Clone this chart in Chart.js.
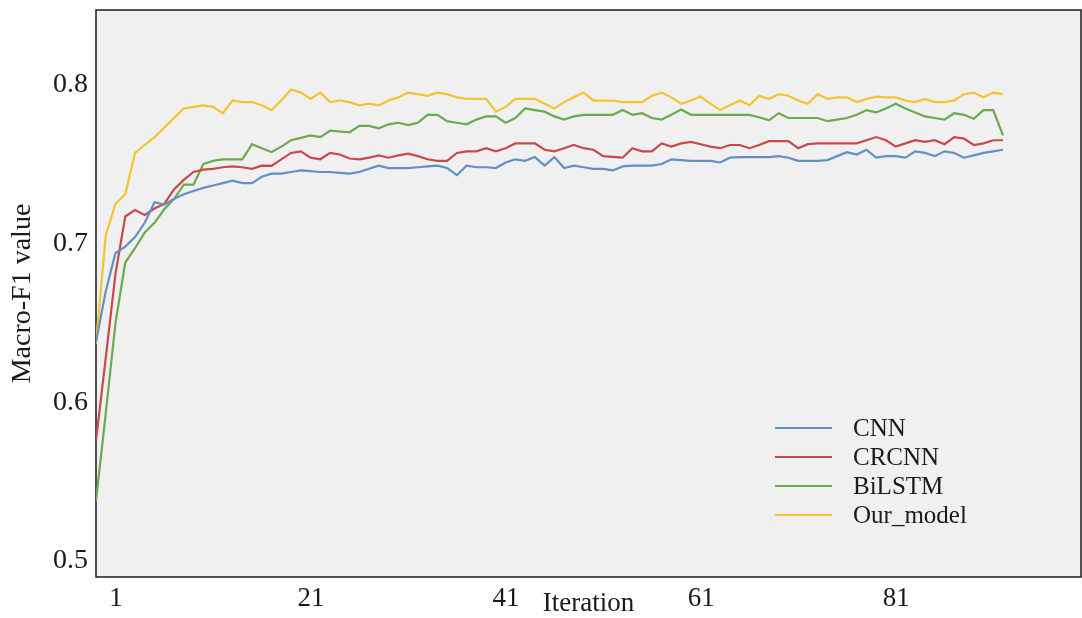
<!DOCTYPE html>
<html>
<head>
<meta charset="utf-8">
<script src="https://cdn.jsdelivr.net/npm/chart.js@4.4.0/dist/chart.umd.min.js"></script>
<style>
  html, body { margin: 0; padding: 0; background: #ffffff; }
  #wrap { width: 1082px; height: 618px; }
</style>
</head>
<body>
<div id="wrap"><canvas id="f1Chart" width="1082" height="618"></canvas></div>
<script>
// iteration numbers along the x axis
const iterations = [];
for (let i = 1; i <= 94; i++) iterations.push(i);

const seriesNames = ["CNN", "CRCNN", "BiLSTM", "Our_model"];
const seriesColors = ["#6390c4", "#c9494a", "#6aab4f", "#f2c431"];

const cnn = [0.638,0.670,0.694,0.698,0.704,0.713,0.726,0.7245,0.728,0.731,
  0.733,0.735,0.7365,0.738,0.7395,0.738,0.738,0.742,0.744,0.744,
  0.745,0.746,0.7455,0.745,0.745,0.7445,0.744,0.745,0.747,0.749,
  0.7475,0.7475,0.7475,0.748,0.7485,0.749,0.7475,0.743,0.749,0.748,
  0.748,0.7475,0.751,0.753,0.752,0.7544,0.749,0.7544,0.7475,0.749,
  0.748,0.747,0.747,0.746,0.7485,0.749,0.749,0.749,0.750,0.753,
  0.7525,0.752,0.752,0.752,0.751,0.754,0.7544,0.7544,0.7544,0.7544,
  0.755,0.754,0.752,0.752,0.752,0.7525,0.755,0.7575,0.756,0.759,
  0.754,0.755,0.755,0.754,0.758,0.757,0.755,0.758,0.757,0.754,
  0.7555,0.757,0.758,0.759];

const crcnn = [0.576,0.628,0.681,0.717,0.721,0.718,0.722,0.725,0.734,0.740,
  0.745,0.7465,0.747,0.748,0.7485,0.748,0.747,0.749,0.7488,0.753,
  0.757,0.758,0.754,0.753,0.757,0.756,0.7535,0.753,0.754,0.7555,
  0.754,0.7555,0.7565,0.755,0.753,0.752,0.752,0.757,0.758,0.758,
  0.760,0.758,0.760,0.763,0.763,0.763,0.759,0.758,0.760,0.762,
  0.760,0.759,0.755,0.7545,0.754,0.760,0.758,0.758,0.763,0.761,
  0.763,0.764,0.7625,0.761,0.760,0.762,0.762,0.760,0.762,0.7644,
  0.7644,0.7644,0.760,0.7625,0.763,0.763,0.763,0.763,0.763,0.765,
  0.767,0.765,0.761,0.763,0.765,0.764,0.765,0.7625,0.767,0.766,
  0.762,0.763,0.765,0.765];

const bilstm = [0.538,0.593,0.650,0.688,0.697,0.707,0.713,0.7215,0.728,0.737,
  0.737,0.750,0.752,0.753,0.753,0.753,0.7625,0.760,0.7575,0.761,
  0.765,0.7665,0.768,0.767,0.771,0.7705,0.770,0.774,0.774,0.7725,
  0.775,0.776,0.7745,0.776,0.781,0.781,0.777,0.776,0.775,0.778,
  0.780,0.780,0.776,0.779,0.785,0.784,0.783,0.780,0.778,0.780,
  0.781,0.781,0.781,0.781,0.784,0.781,0.782,0.779,0.778,0.781,
  0.7844,0.781,0.781,0.781,0.781,0.781,0.781,0.781,0.7795,0.7775,
  0.782,0.779,0.779,0.779,0.779,0.777,0.778,0.779,0.781,0.784,
  0.7825,0.785,0.788,0.785,0.7825,0.780,0.779,0.778,0.782,0.781,
  0.7785,0.784,0.784,0.768];

const ourModel = [0.637,0.705,0.725,0.731,0.757,0.762,0.767,0.773,0.779,0.785,
  0.786,0.787,0.786,0.782,0.790,0.789,0.789,0.787,0.784,0.790,
  0.797,0.795,0.791,0.795,0.789,0.790,0.789,0.787,0.788,0.787,
  0.790,0.792,0.795,0.794,0.793,0.795,0.794,0.792,0.791,0.791,
  0.791,0.783,0.786,0.791,0.791,0.791,0.788,0.785,0.789,0.792,
  0.795,0.790,0.790,0.790,0.789,0.789,0.789,0.793,0.795,0.792,
  0.788,0.790,0.7925,0.788,0.784,0.787,0.790,0.787,0.793,0.791,
  0.794,0.793,0.790,0.788,0.794,0.791,0.792,0.792,0.789,0.791,
  0.7925,0.792,0.792,0.790,0.789,0.791,0.789,0.789,0.790,0.794,
  0.795,0.792,0.795,0.794];

const xTickValues = [1, 21, 41, 61, 81];
const yTickValues = [0.5, 0.6, 0.7, 0.8];

const seriesData = [cnn, crcnn, bilstm, ourModel];
const serif = "'Liberation Serif', 'Times New Roman', serif";

// gray plot background and black frame
const framePlugin = {
  id: "frame",
  beforeDatasetsDraw(chart) {
    const { ctx, chartArea: a } = chart;
    ctx.save();
    ctx.fillStyle = "#f0f0f0";
    ctx.fillRect(a.left, a.top, a.right - a.left, a.bottom - a.top);
    ctx.strokeStyle = "#1a1a1a";
    ctx.lineWidth = 1.5;
    ctx.strokeRect(a.left, a.top, a.right - a.left, a.bottom - a.top);
    ctx.restore();
  },
};

// legend drawn inside the plot, lower right
const legendPlugin = {
  id: "innerLegend",
  afterDatasetsDraw(chart) {
    const ctx = chart.ctx;
    ctx.save();
    ctx.font = "25px " + serif;
    ctx.textBaseline = "middle";
    ctx.textAlign = "left";
    chart.data.datasets.forEach((ds, i) => {
      const y = 428 + i * 29;
      ctx.strokeStyle = ds.borderColor;
      ctx.lineWidth = 2.2;
      ctx.beginPath();
      ctx.moveTo(775, y);
      ctx.lineTo(832, y);
      ctx.stroke();
      ctx.fillStyle = "#1a1a1a";
      ctx.fillText(ds.label, 853, y + 1);
    });
    ctx.restore();
  },
};

const ctx = document.getElementById("f1Chart").getContext("2d");
const f1Chart = new Chart(ctx, {
  type: "line",
  data: {
    labels: iterations,
    datasets: seriesNames.map((name, i) => ({
      label: name,
      data: seriesData[i],
      borderColor: seriesColors[i],
      borderWidth: 2.2,
      pointRadius: 0,
      tension: 0,
      fill: false,
    })),
  },
  options: {
    responsive: false,
    animation: false,
    layout: { padding: { top: 10, right: 1, left: 0, bottom: 0 } },
    plugins: {
      legend: { display: false },
      tooltip: { enabled: false },
    },
    scales: {
      x: {
        type: "linear",
        min: 1,
        max: 102,
        grid: { display: false, drawTicks: false },
        border: { display: false },
        afterBuildTicks: (scale) => {
          scale.ticks = xTickValues.map((v) => ({ value: v }));
        },
        afterFit: (scale) => {
          scale.height = 41;
          scale.paddingLeft = 0;
          scale.paddingRight = 0;
        },
        ticks: {
          autoSkip: false,
          maxRotation: 0,
          padding: 6,
          labelOffset: 20,
          color: "#1a1a1a",
          font: { family: serif, size: 27 },
          callback: (v) => String(v),
        },
        title: {
          display: true,
          text: "Iteration",
          color: "#1a1a1a",
          font: { family: serif, size: 27 },
          padding: { top: 0, bottom: -2 },
        },
      },
      y: {
        min: 0.49,
        max: 0.847,
        grid: { display: false, drawTicks: false },
        border: { display: false },
        afterBuildTicks: (scale) => {
          scale.ticks = yTickValues.map((v) => ({ value: v }));
        },
        afterFit: (scale) => {
          scale.width = 96;
          scale.paddingTop = 0;
          scale.paddingBottom = 0;
        },
        ticks: {
          padding: 8,
          color: "#1a1a1a",
          font: { family: serif, size: 28 },
          callback: (v) => v.toFixed(1),
        },
        title: {
          display: true,
          text: "Macro-F1 value",
          color: "#1a1a1a",
          font: { family: serif, size: 28 },
          padding: { top: 6, bottom: 0 },
        },
      },
    },
  },
  plugins: [framePlugin, legendPlugin],
});
</script>
</body>
</html>
